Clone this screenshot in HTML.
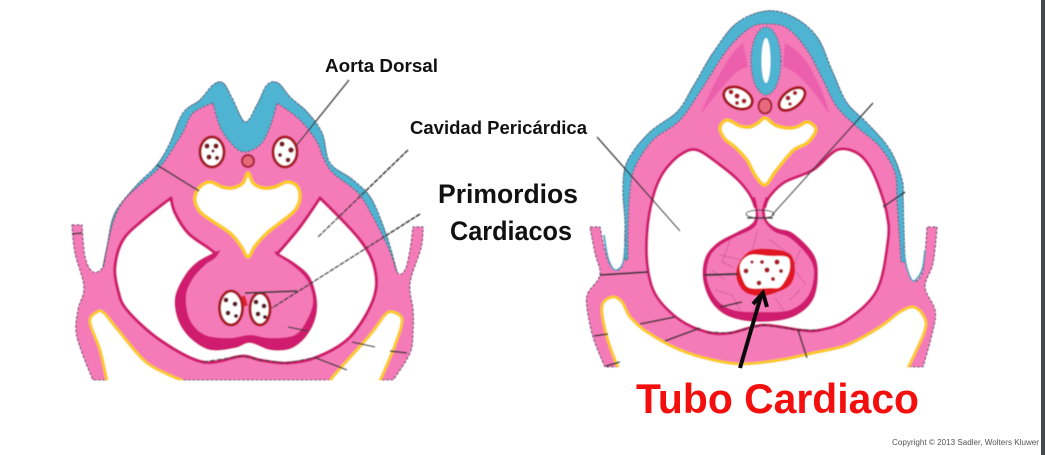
<!DOCTYPE html>
<html><head><meta charset="utf-8"><style>
html,body{margin:0;padding:0;background:#fff;width:1045px;height:455px;overflow:hidden}
svg{display:block}
text{font-family:"Liberation Sans",sans-serif;font-weight:bold;fill:#111}
</style></head><body>
<svg width="1045" height="455" viewBox="0 0 1045 455" xmlns="http://www.w3.org/2000/svg">
<defs>
<filter id="bl" x="-5%" y="-5%" width="110%" height="110%"><feGaussianBlur stdDeviation="0.55"/></filter>
</defs>
<rect width="1045" height="455" fill="#fff"/>
<rect x="1041" y="0" width="4" height="455" fill="#444b4e"/>

<g filter="url(#bl)">
<g id="a"></g>
<rect x="80" y="380.500" width="330" height="6" fill="#fff"/>
<!-- left somites -->
<ellipse cx="212" cy="152" rx="12" ry="15" fill="#fff" stroke="#a81a22" stroke-width="3"/>
<ellipse cx="285" cy="152" rx="12" ry="15" fill="#fff" stroke="#a81a22" stroke-width="3"/>
<g fill="#7a1a24"><circle cx="207" cy="146" r="2.6"/><circle cx="216" cy="146" r="2.6"/><circle cx="209" cy="157" r="2.6"/><circle cx="217" cy="158" r="2.2"/><circle cx="213" cy="151" r="1.6"/><circle cx="282" cy="144" r="2.6"/><circle cx="291" cy="150" r="2.8"/><circle cx="280" cy="155" r="2"/><circle cx="288" cy="160" r="2.4"/></g>
<circle cx="248" cy="161" r="6" fill="#e66a7c" stroke="#a81f35" stroke-width="2"/>
<!-- left heart tubes -->
<ellipse cx="231" cy="308" rx="11.5" ry="17" fill="#fff" stroke="#a81a22" stroke-width="3"/>
<ellipse cx="260" cy="309" rx="10" ry="16" fill="#fff" stroke="#a81a22" stroke-width="3"/>
<path d="M243 296L246 306" stroke="#e02030" stroke-width="4"/>
<g fill="#5a1a20"><circle cx="226" cy="300" r="2.4"/><circle cx="235" cy="304" r="2.4"/><circle cx="228" cy="313" r="2.4"/><circle cx="236" cy="316" r="2"/><circle cx="256" cy="302" r="2.4"/><circle cx="264" cy="306" r="2.4"/><circle cx="258" cy="314" r="2.4"/><circle cx="265" cy="317" r="2"/></g>
<!-- left leader lines -->
<g stroke="#3a3a3a" fill="none">
<path d="M349 80L296 146" stroke-width="1.3"/>
<path d="M408 150L318 237" stroke-width="1.5" stroke-dasharray="5 1"/>
<path d="M420 214L272 308" stroke-width="1.5" stroke-dasharray="5 1"/>
<path d="M245 293L297 291" stroke-width="1.7"/>
<path d="M157 165L199 191" stroke-width="1.5"/>
<path d="M288 327L308 331M352 342L375 347M390 351L407 353M316 358L347 370" stroke-width="1.4"/>
<path d="M72 234L82 233" stroke-width="1.6"/>
<path d="M203 362L242 356L260 360L287 363L317 357" stroke-width="1.3" stroke-dasharray="5 2"/>
</g>

<g id="b"></g>
<rect x="596" y="367.500" width="340" height="6" fill="#fff"/>
<!-- neural tube -->
<ellipse cx="766" cy="61" rx="15" ry="34" fill="#4fb3d2" stroke="#4a5a70" stroke-width="1" stroke-dasharray="2 1.5"/>
<ellipse cx="766" cy="60.500" rx="4.500" ry="22.500" fill="#fff"/>
<!-- right somites -->
<g transform="rotate(25 738 98)"><ellipse cx="738" cy="98" rx="15" ry="10" fill="#fff" stroke="#a8151d" stroke-width="3"/></g>
<g transform="rotate(-38 792 99)"><ellipse cx="792" cy="99" rx="15" ry="8.500" fill="#fff" stroke="#a8151d" stroke-width="3"/></g>
<g fill="#a81f2a"><circle cx="731" cy="92" r="2.4"/><circle cx="737" cy="96" r="2.6"/><circle cx="744" cy="101" r="2.4"/><circle cx="737" cy="103" r="2"/><circle cx="788" cy="98" r="2.4"/><circle cx="795" cy="93" r="2.2"/><circle cx="790" cy="104" r="1.8"/></g>
<ellipse cx="765" cy="106" rx="6.500" ry="7.500" fill="#e66a7c" stroke="#a81f35" stroke-width="2"/>
<!-- heart tube dots -->
<g fill="#a81f2a"><circle cx="746" cy="271" r="2.500"/><circle cx="762" cy="262" r="2"/><circle cx="777" cy="262" r="2.600"/><circle cx="767" cy="270" r="2.600"/><circle cx="781" cy="271" r="2"/><circle cx="773" cy="279" r="2"/><circle cx="759" cy="283" r="2.400"/><circle cx="752" cy="262" r="1.600"/></g>
<!-- mesh in heart -->
<g stroke="#b5246e" stroke-width="0.7" fill="none" stroke-dasharray="1.5 1.2">
<path d="M730 240L722 262L735 268M758 230L752 250M800 250L793 268L806 285M716 290L732 295L740 310M775 298L785 312M720 255L742 260M770 240L790 255M760 298L752 312M800 290L790 300M712 270L725 280"/>
</g>
<!-- right leader lines -->
<g stroke="#333" fill="none">
<path d="M597 137L680 231" stroke-width="1.3"/>
<path d="M873 103L772 215" stroke-width="1.3"/>
<ellipse cx="760" cy="214" rx="14" ry="4" stroke-width="1"/>
<path d="M747 218L773 218" stroke-width="1.4"/>
<path d="M600 275L648 272" stroke-width="1.800"/>
<path d="M704 275L738 274" stroke-width="2"/>
<path d="M720 307L742 302M640 324L675 317M665 341L700 328M594 336L608 334M606 366L620 362M798 330L807 358M883 207L905 192" stroke-width="1.500"/>
<path d="M707 332L730 333L763 325L800 330L820 330" stroke-width="1.200" stroke-dasharray="5 2"/>
</g>
</g>
<!-- black arrow -->
<path d="M740 368L761 296" stroke="#0a0a0a" stroke-width="4" fill="none"/>
<path d="M753 304L763 293L767 307" stroke="#0a0a0a" stroke-width="4" fill="none"/>

<text x="325" y="72" font-size="18" textLength="113" lengthAdjust="spacingAndGlyphs">Aorta Dorsal</text>
<text x="410" y="134" font-size="18" textLength="177" lengthAdjust="spacingAndGlyphs">Cavidad Pericárdica</text>
<text x="438" y="203" font-size="27" textLength="140" lengthAdjust="spacingAndGlyphs">Primordios</text>
<text x="450" y="240" font-size="27" textLength="122" lengthAdjust="spacingAndGlyphs">Cardiacos</text>
<text x="636" y="413" font-size="42" textLength="283" lengthAdjust="spacingAndGlyphs" style="fill:#f40f0f">Tubo Cardiaco</text>
<text x="892" y="445" font-size="8" textLength="147" lengthAdjust="spacingAndGlyphs" style="fill:#555;font-weight:normal">Copyright © 2013 Sadler, Wolters Kluwer</text>
</svg>
<script>
var NS="http://www.w3.org/2000/svg";
function D(s,closed){
  var p=s.trim().split(/\s+/).map(function(t){var c=t.slice(-1)=="!";var v=t.replace("!","").split(",");return{x:+v[0],y:+v[1],c:c}});
  var n=p.length,T=[];
  for(var i=0;i<n;i++){
    var a=closed?p[(i-1+n)%n]:p[Math.max(i-1,0)],b=closed?p[(i+1)%n]:p[Math.min(i+1,n-1)];
    T.push(p[i].c?{x:0,y:0}:{x:(b.x-a.x)/6,y:(b.y-a.y)/6});
  }
  var d="M"+p[0].x+" "+p[0].y,m=closed?n:n-1;
  for(i=0;i<m;i++){
    var j=(i+1)%n;
    d+="C"+(p[i].x+T[i].x).toFixed(1)+" "+(p[i].y+T[i].y).toFixed(1)+" "+(p[j].x-T[j].x).toFixed(1)+" "+(p[j].y-T[j].y).toFixed(1)+" "+p[j].x+" "+p[j].y;
  }
  return d+(closed?"Z":"");
}
function S(g,s,closed,fill,stroke,w,dash){
  var e=document.createElementNS(NS,"path");
  e.setAttribute("d",D(s,closed));
  e.setAttribute("fill",fill||"none");
  if(stroke){e.setAttribute("stroke",stroke);e.setAttribute("stroke-width",w);e.setAttribute("stroke-linejoin","round");}
  if(dash)e.setAttribute("stroke-dasharray",dash);
  document.getElementById(g).appendChild(e);
}
var PK="#f47ab8",CR="#d01a6e",YL="#fdc920",BL="#4fb3d2",DK="#55405f";
/* LEFT */
S("a","72,225! 82,225! 85,257 93,272 103,267 107,247 115,213 137,185 157,165 170,143 183,113 200,100 213,85 223,83 232,98 245,122 257,105 267,85 278,83 290,97 307,112 322,133 330,163 353,180 372,200 388,240 397,272 405,270 410,250 413,227! 423,227! 421,248 410,283 413,310 413,330 410,353 393,380! 93,380! 77,337 78,310 84,287 75,253",true,PK,DK,1,"3 1.5");
S("a","103,267! 107,247 115,213 137,185 157,165 170,143 183,113 200,100 213,85 223,83 232,98 245,122 257,105 267,85 278,83 290,97 307,112 322,133 330,163 353,180 372,200 388,240 397,272! 388,247 373,217 358,193 333,173 323,157 317,142 300,120 277,103! 270,127 260,145 243,152 230,142 220,127 213,103! 193,113 183,132 170,153 157,170 127,197 115,217 108,243",true,BL,"#4a5a70",1,"2.5 1.5");
S("a","107,381! 100,350 90,322 97,312 104,313 118,330 147,363 183,381!",true,"#fff");
S("a","107,381 100,350 90,322 97,312 104,313 118,330 147,363 183,381",false,null,YL,3);
S("a","380,381! 395,345 402,320 393,312 385,315 370,335 337,372 330,381!",true,"#fff");
S("a","380,381 395,345 402,320 393,312 385,315 370,335 337,372 330,381",false,null,YL,3);
S("a","171,198! 143,220 123,240 115,267 118,290 127,310 160,340 203,362 242,356 260,360 287,363 317,357 350,337 373,300 375,270 360,240 320,198! 300,227 278,253! 215,253! 207,247 188,233 175,213",true,"#fff",CR,3.2);
S("a","213,253! 197,262 185,275 175,297 178,320 190,338 210,350 235,348 250,343 270,350 290,349 305,338 315,320 317,300 310,277 295,263 278,253! 245,240!",true,CR);
S("a","217,256 205,265 192,280 186,297 190,320 205,335 230,338 250,335 270,338 295,335 308,318 313,300 307,280 292,265 276,255! 268,238! 226,238!",true,PK);
S("a","200,187 210,182 222,187 233,188 243,183 248,173 253,183 263,188 275,187 287,182 297,186 300,197 297,207 290,215 267,233 255,246 248,257 241,246 230,233 205,216 197,207 195,197",true,"#fff",YL,3.5);
/* RIGHT */
S("b","590,227! 600,227! 607,258 615,270 623,263 625,223 623,187 628,160 650,132 677,112 693,87 713,53 737,23 767,11 793,17 817,37 833,73 847,103 867,123 890,150 902,180 903,200 905,257 913,281 923,270 927,227! 937,227! 933,263 925,287 935,310 933,330 923,367! 605,367! 593,337 587,307 588,293 600,275 595,253",true,PK,DK,1,"3 1.5");
S("b","625,260! 625,223 623,187 628,160 650,132 677,112 693,87 713,53 737,23 767,11 793,17 817,37 833,73 847,103 867,123 890,150 902,180 903,200 905,262! 901,262! 899,230 897,200 895,173 880,147 857,127 837,107 823,80 807,50 787,28 767,24 750,28 727,50 703,87 680,120 653,140 635,167 630,190 628,225 628,260!",true,BL,"#4a5a70",1,"2.5 1.5");
S("b","604,235 608,258 615,270 623,263 626,240",false,null,"#4f9fc0",1.6);
S("b","903,245 906,265 913,281 922,270 925,250",false,null,"#4f9fc0",1.6);
S("b","700,115! 713,87 730,57 743,43! 748,67! 737,72 720,90",true,"#ec5fac");
S("b","830,115! 820,87 803,57 785,43! 783,67! 794,72 812,90",true,"#ec5fac");
S("b","618,368! 607,337 602,307 612,297 622,302 630,317 647,332 680,350 713,360 743,364 780,360 813,353 847,345 880,327 900,312 913,307 923,315 925,330 908,368!",true,"#fff");
S("b","618,368 607,337 602,307 612,297 622,302 630,317 647,332 680,350 713,360 743,364 780,360 813,353 847,345 880,327 900,312 913,307 923,315 925,330 908,368",false,null,YL,3);
S("b","653,197 663,173 680,155 697,150 720,165 738,180 750,195 755,207! 765,207! 770,196 785,182 813,170 837,150 857,153 870,167 880,190 887,215 888,240 877,290 847,320 820,330 800,330 763,325 730,333 707,332 680,320 657,297 648,270 647,233",true,"#fff",CR,3);
S("b","752,197! 755,207 755,218 750,225 737,232 717,243 705,258 703,280 712,303 730,317 760,322 793,317 813,300 818,273 813,253 793,233 777,228 767,220 765,207 768,197!",true,CR);
S("b","754,194! 757,205 758,220 752,229 735,237 718,247 709,259 707,279 716,299 733,310 760,312 790,310 808,296 814,273 808,256 790,238 775,232 765,222 762,210 767,194!",true,PK);
S("b","738,265 750,251 770,249 790,254 795,270 790,285 775,293 760,296 745,292 737,280",true,"#e01820");
S("b","740,265 750,255 770,256 787,257 790,265 788,275 780,287 770,288 750,288 743,280",true,"#fff");
S("b","720,128 727,120 740,126 750,127 758,123 765,118 775,125 787,128 797,127 807,122 815,127 815,133 807,143 795,149 787,157 775,172 765,185 755,175 747,160 735,147 725,139",true,"#fff",YL,3.5);
</script>
</body></html>
